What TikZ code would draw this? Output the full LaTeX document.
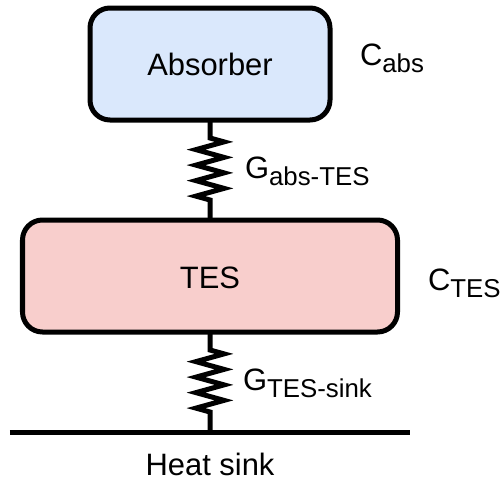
\documentclass[tikz,border=0pt]{standalone}
\usepackage{fontspec}
\setmainfont{Liberation Sans}
\usetikzlibrary{decorations.pathmorphing}
\definecolor{absfill}{HTML}{DAE8FC}
\definecolor{tesfill}{HTML}{F8CECC}
\newcommand{\lowtxt}[1]{\raisebox{-4pt}{\fontsize{14.7}{17}\selectfont #1}}
\tikzset{
    block/.style={draw,line width=0.1cm,rounded corners=0.4cm,outer sep=0,inner sep=0,
                  minimum height=2.24cm,text height=12.6pt,text depth=0pt},
    label/.style={anchor=base west,inner sep=0,outer sep=0},
    thermlink/.style={line width=0.1cm,decorate,
                  decoration={zigzag,segment length=0.31cm,amplitude=0.28cm,pre length=0.36cm,post length=#1}},
}
\begin{document}
\begin{tikzpicture}[font=\fontsize{17.6}{21}\selectfont]
            \useasboundingbox ( 0,0 ) rectangle ( 10.04,9.6 );
            \node [block,fill=absfill,minimum width=4.8cm] (absorber) at ( 4.2,8.32 ) {Absorber};
            \node [block,fill=tesfill,minimum width=7.5cm,text height=14pt] (tes) at ( 4.2,4.08 ) {TES};
            \coordinate (sinkleft) at ( 0.2,0.96 );
            \coordinate (sinkright) at ( 8.2,0.96 );
            \coordinate (sinkmid) at ( 4.2,0.96 );
            \draw [line width=0.1cm] (sinkleft) -- (sinkright);
            \draw [thermlink=0.4cm] (absorber.south) -- (tes.north);
            \draw [thermlink=0.36cm] (tes.south) -- (sinkmid);
            \node [anchor=base,inner sep=0] (sink) at ( 4.2,0.1 ) {Heat sink};
            \node [label] (cabs) at ( 7.2,8.3 ) {C\lowtxt{abs}};
            \node [label] (ctes) at ( 8.56,3.8 ) {C\lowtxt{TES}};
            \node [label] (gabs) at ( 4.9,6.04 ) {G\lowtxt{abs-TES}};
            \node [label] (gsink) at ( 4.86,1.8 ) {G\lowtxt{TES-sink}};
        \end{tikzpicture}
\end{document}
